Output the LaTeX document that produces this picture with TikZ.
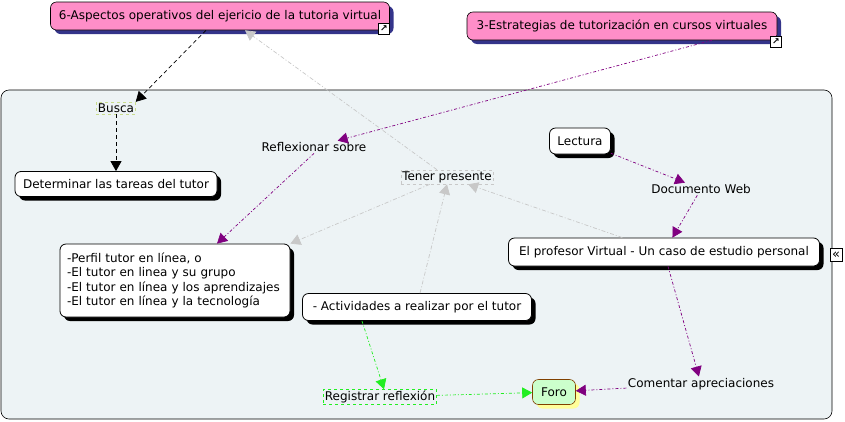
\documentclass[tikz,border=0pt]{standalone}
\usepackage{fontspec}
\setmainfont{DejaVu Sans}
\usetikzlibrary{arrows.meta,shadows}
\definecolor{panelbg}{HTML}{EDF3F5}
\definecolor{pinkmap}{HTML}{FF8EC8}
\definecolor{navymap}{HTML}{34348A}
\definecolor{purplemap}{HTML}{800080}
\definecolor{graymap}{HTML}{C8C8C8}
\definecolor{greenmap}{HTML}{22EE22}
\definecolor{foroline}{HTML}{804000}
\definecolor{forofill}{HTML}{CCFFCC}
\definecolor{foroshadow}{HTML}{FFFF99}
\definecolor{buscaline}{HTML}{C8DC8C}

\begin{document}
\begin{tikzpicture}[x=1pt, y=-1pt,
  txt/.style={font=\fontsize{12}{14}\selectfont},
  concept/.style={txt, draw, rounded corners=6pt, fill=white, line width=0.8pt,
    drop shadow={shadow xshift=4pt, shadow yshift=-4pt, fill=black, opacity=1}},
  topic/.style={txt, draw, rounded corners=6pt, fill=pinkmap, line width=0.6pt,
    drop shadow={shadow xshift=4pt, shadow yshift=-4pt, fill=navymap, opacity=1}},
  phrase/.style={txt, inner sep=1.5pt},
  linkicon/.style={draw, fill=white, line width=0.6pt, inner sep=0pt,
    minimum width=11pt, minimum height=11pt, font=\fontsize{9}{9}\selectfont\bfseries},
  tip/.style={-{Triangle[length=10pt,width=11pt]}, line width=0.7pt},
  blk/.style={tip, black, dash pattern=on 4pt off 3pt},
  pur/.style={tip, purplemap, dash pattern=on 3pt off 2pt on 1pt off 2pt},
  gry/.style={tip, graymap, dash pattern=on 4pt off 2pt on 1pt off 2pt},
  grn/.style={tip, greenmap, dash pattern=on 3pt off 2pt on 1pt off 2pt}
]
\useasboundingbox (0,0) rectangle (845,421);
\filldraw[fill=panelbg, draw=black, line width=0.6pt, rounded corners=8pt] (1,90) rectangle (832,419);

\node[topic, minimum width=339pt, minimum height=28pt] (asp) at (220,16)
  {6-Aspectos operativos del ejericio de la tutoria virtual};
\node[linkicon] (asplink) at (384,29) {↗};
\node[topic, minimum width=310pt, minimum height=28pt] (estr) at (622,26)
  {3-Estrategias de tutorización en cursos virtuales};
\node[linkicon] (estrlink) at (776,42) {↗};

\node[phrase, draw=buscaline, dashed] (busca) at (116,108) {Busca};
\node[concept, minimum width=202pt, minimum height=25pt] (tareas) at (116,184)
  {Determinar las tareas del tutor};
\node[phrase] (reflex) at (314,147) {Reflexionar sobre};
\node[phrase, draw=graymap, dashed] (tener) at (447,177) {Tener presente};
\node[concept, minimum width=61pt, minimum height=26pt] (lect) at (580,141) {Lectura};
\node[phrase] (docw) at (701,189) {Documento Web};
\node[concept, minimum width=311pt, minimum height=28pt] (prof) at (664,252)
  {El profesor Virtual - Un caso de estudio personal};
\node[linkicon, minimum width=12pt, minimum height=13pt, font=\fontsize{13}{13}\selectfont] (proficon) at (836,255) {«};
\node[concept, font=\fontsize{12}{14.5}\selectfont, text width=216pt, inner xsep=7pt,
  minimum height=73pt, align=left] (perfil) at (175,280.5)
  {-Perfil tutor en línea, o\\
   -El tutor en linea y su grupo\\
   -El tutor en línea y los aprendizajes\\
   -El tutor en línea y la tecnología};
\node[concept, minimum width=229pt, minimum height=27pt] (activ) at (417,307)
  {- Actividades a realizar por el tutor};
\node[phrase, draw=greenmap, dashed] (regis) at (380,397) {Registrar reflexión};
\node[txt, draw=foroline, fill=forofill, rounded corners=6pt, line width=0.6pt,
  minimum width=43pt, minimum height=25pt,
  drop shadow={shadow xshift=4pt, shadow yshift=-4pt, fill=foroshadow, opacity=1}] (foro) at (554,392) {Foro};
\node[phrase] (coment) at (701,384) {Comentar apreciaciones};

\draw[blk] (asp) -- (busca.north east);
\draw[blk] (busca) -- (tareas);
\draw[pur] ([xshift=90pt]estr.south) -- (reflex);
\draw[pur] (reflex.south) -- ([xshift=42pt]perfil.north);
\draw[gry] (tener) -- ([xshift=25pt]asp.south);
\draw[gry] (tener) -- (perfil.north east);
\draw[gry] ([xshift=3pt]activ.north) -- (tener.south);
\draw[gry] (prof) -- (tener);
\draw[pur] (lect) -- (docw);
\draw[pur] (docw) -- (prof);
\draw[pur] (prof) -- (coment);
\draw[pur] (coment) -- (foro);
\draw[grn] ([xshift=-55pt]activ.south) -- ([xshift=4pt]regis.north);
\draw[grn] (regis) -- (foro);
\end{tikzpicture}
\end{document}
